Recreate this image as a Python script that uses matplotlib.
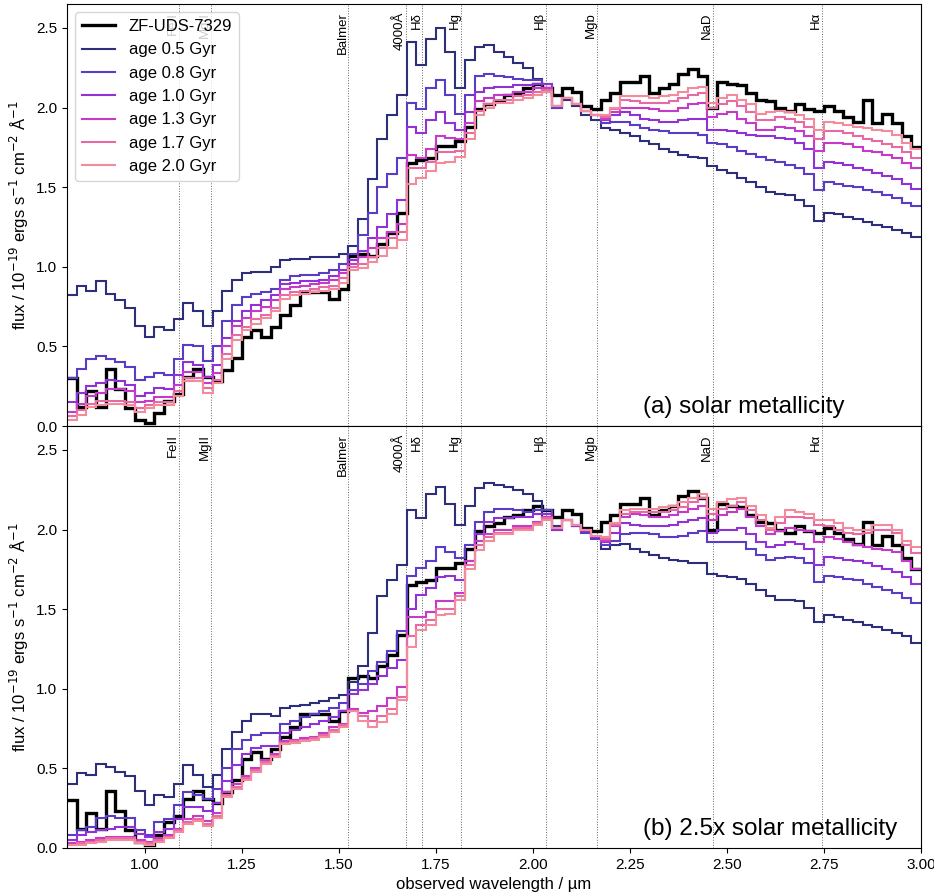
import numpy as np
import matplotlib
matplotlib.use('Agg')
import matplotlib.pyplot as plt
import matplotlib.transforms as mtransforms

plt.rcParams['font.family'] = ['Liberation Sans', 'DejaVu Sans']

# wavelength grid (bin edges, micron)
wave_edges = np.linspace(0.8, 3.0, 89)

# observed spectrum, same in both panels
obs = [0.30, 0.12, 0.22, 0.12, 0.36, 0.23, 0.11, 0.04, 0.02, 0.08, 0.16, 0.20, 0.31, 0.36, 0.31, 0.28,
       0.35, 0.43, 0.56, 0.60, 0.56, 0.62, 0.70, 0.76, 0.84, 0.84, 0.84, 0.80, 0.86, 1.07, 1.08, 1.07,
       1.14, 1.21, 1.34, 1.65, 1.67, 1.68, 1.76, 1.76, 1.79, 1.88, 1.99, 2.02, 2.04, 2.08, 2.09, 2.12,
       2.15, 2.12, 2.08, 2.12, 2.10, 2.01, 1.99, 2.05, 2.09, 2.16, 2.16, 2.20, 2.09, 2.12, 2.15, 2.21,
       2.24, 2.20, 2.00, 2.16, 2.15, 2.14, 2.09, 2.05, 2.04, 2.00, 1.98, 2.02, 1.99, 1.98, 2.01, 1.98,
       1.94, 1.91, 2.05, 1.90, 1.96, 1.90, 1.82, 1.75]

ages = ['0.5', '0.8', '1.0', '1.3', '1.7', '2.0']
colors = ['#2e2f7a', '#5b3cc4', '#9131d6', '#c53ac8', '#e86aa4', '#f38b9b']

# (a) solar metallicity models
solar = {
    '0.5': [0.82, 0.88, 0.85, 0.91, 0.83, 0.79, 0.74, 0.63, 0.56, 0.62, 0.60, 0.67, 0.77, 0.72, 0.63, 0.72,
            0.85, 0.92, 0.96, 0.97, 0.97, 1.00, 1.04, 1.05, 1.05, 1.06, 1.06, 1.06, 1.08, 1.13, 1.30, 1.55,
            1.80, 1.95, 2.08, 2.41, 2.27, 2.43, 2.50, 2.35, 2.12, 2.30, 2.38, 2.39, 2.35, 2.32, 2.28, 2.25,
            2.18, 2.10, 2.00, 2.05, 2.01, 1.95, 1.92, 1.87, 1.86, 1.84, 1.82, 1.79, 1.77, 1.74, 1.72, 1.70,
            1.69, 1.68, 1.63, 1.61, 1.59, 1.56, 1.53, 1.50, 1.47, 1.46, 1.45, 1.42, 1.38, 1.29, 1.34, 1.33,
            1.31, 1.30, 1.28, 1.26, 1.25, 1.23, 1.21, 1.19],
    '0.8': [0.30, 0.36, 0.42, 0.44, 0.42, 0.40, 0.37, 0.29, 0.31, 0.33, 0.32, 0.42, 0.51, 0.50, 0.41, 0.50,
            0.66, 0.76, 0.81, 0.83, 0.84, 0.86, 0.92, 0.94, 0.95, 0.95, 0.96, 0.98, 1.02, 1.08, 1.20, 1.34,
            1.50, 1.58, 1.68, 2.03, 1.99, 2.12, 2.17, 2.08, 1.96, 2.08, 2.20, 2.21, 2.20, 2.19, 2.18, 2.17,
            2.17, 2.15, 2.00, 2.06, 2.02, 1.98, 1.95, 1.90, 1.91, 1.91, 1.89, 1.87, 1.86, 1.85, 1.84, 1.84,
            1.84, 1.83, 1.78, 1.77, 1.75, 1.73, 1.71, 1.69, 1.67, 1.66, 1.64, 1.62, 1.58, 1.48, 1.53, 1.52,
            1.51, 1.50, 1.48, 1.47, 1.45, 1.43, 1.40, 1.38],
    '1.0': [0.15, 0.21, 0.25, 0.27, 0.29, 0.28, 0.26, 0.19, 0.21, 0.24, 0.23, 0.32, 0.40, 0.38, 0.31, 0.38,
            0.55, 0.66, 0.72, 0.76, 0.79, 0.82, 0.89, 0.90, 0.91, 0.91, 0.92, 0.94, 0.98, 1.04, 1.10, 1.18,
            1.25, 1.33, 1.42, 1.88, 1.84, 1.92, 1.97, 1.90, 1.86, 1.97, 2.10, 2.12, 2.13, 2.13, 2.14, 2.14,
            2.15, 2.15, 2.01, 2.06, 2.02, 1.98, 1.95, 1.92, 1.95, 1.97, 1.95, 1.93, 1.92, 1.91, 1.91, 1.92,
            1.93, 1.93, 1.86, 1.86, 1.85, 1.84, 1.83, 1.82, 1.82, 1.81, 1.80, 1.78, 1.74, 1.62, 1.66, 1.65,
            1.64, 1.62, 1.61, 1.59, 1.57, 1.55, 1.52, 1.49],
    '1.3': [0.09, 0.14, 0.19, 0.21, 0.23, 0.23, 0.22, 0.15, 0.16, 0.18, 0.18, 0.26, 0.34, 0.34, 0.27, 0.33,
            0.50, 0.63, 0.68, 0.72, 0.75, 0.79, 0.86, 0.87, 0.88, 0.89, 0.90, 0.92, 0.96, 1.02, 1.06, 1.12,
            1.18, 1.22, 1.27, 1.70, 1.68, 1.74, 1.82, 1.81, 1.80, 1.90, 2.04, 2.06, 2.08, 2.08, 2.10, 2.10,
            2.12, 2.12, 2.01, 2.06, 2.02, 1.98, 1.95, 1.93, 1.97, 2.00, 2.00, 2.00, 1.99, 1.98, 1.98, 2.00,
            2.02, 2.03, 1.94, 1.96, 1.97, 1.93, 1.90, 1.86, 1.86, 1.88, 1.87, 1.85, 1.82, 1.73, 1.78, 1.78,
            1.77, 1.75, 1.73, 1.72, 1.70, 1.68, 1.65, 1.62],
    '1.7': [0.06, 0.10, 0.14, 0.16, 0.16, 0.16, 0.15, 0.11, 0.13, 0.15, 0.15, 0.22, 0.30, 0.30, 0.24, 0.29,
            0.45, 0.57, 0.62, 0.67, 0.70, 0.74, 0.82, 0.84, 0.85, 0.86, 0.87, 0.88, 0.93, 1.00, 1.02, 1.06,
            1.12, 1.18, 1.22, 1.62, 1.62, 1.66, 1.72, 1.72, 1.73, 1.84, 1.98, 2.02, 2.05, 2.05, 2.07, 2.08,
            2.10, 2.11, 2.01, 2.06, 2.02, 1.98, 1.95, 1.94, 1.99, 2.05, 2.04, 2.03, 2.03, 2.03, 2.04, 2.06,
            2.08, 2.09, 2.00, 2.02, 2.04, 2.01, 1.97, 1.92, 1.92, 1.94, 1.93, 1.91, 1.88, 1.80, 1.85, 1.85,
            1.84, 1.82, 1.80, 1.79, 1.77, 1.75, 1.72, 1.68],
    '2.0': [0.04, 0.07, 0.12, 0.13, 0.14, 0.14, 0.13, 0.09, 0.11, 0.13, 0.13, 0.19, 0.28, 0.28, 0.21, 0.27,
            0.42, 0.54, 0.60, 0.64, 0.68, 0.72, 0.80, 0.82, 0.83, 0.84, 0.85, 0.86, 0.90, 0.98, 0.99, 1.03,
            1.07, 1.12, 1.17, 1.52, 1.56, 1.60, 1.65, 1.66, 1.69, 1.80, 1.95, 2.00, 2.03, 2.03, 2.05, 2.06,
            2.08, 2.10, 2.01, 2.06, 2.02, 1.98, 1.95, 1.95, 2.00, 2.07, 2.07, 2.07, 2.06, 2.07, 2.08, 2.10,
            2.12, 2.13, 2.03, 2.06, 2.08, 2.05, 2.02, 1.96, 1.97, 1.98, 1.97, 1.95, 1.93, 1.86, 1.91, 1.90,
            1.89, 1.88, 1.87, 1.86, 1.85, 1.83, 1.78, 1.74],
}

# (b) 2.5x solar metallicity models
rich = {
    '0.5': [0.40, 0.47, 0.46, 0.53, 0.51, 0.48, 0.45, 0.36, 0.27, 0.33, 0.32, 0.40, 0.52, 0.46, 0.38, 0.46,
            0.62, 0.73, 0.80, 0.84, 0.84, 0.83, 0.88, 0.89, 0.90, 0.91, 0.92, 0.94, 0.96, 1.04, 1.14, 1.35,
            1.58, 1.68, 1.78, 2.12, 2.07, 2.22, 2.27, 2.16, 2.03, 2.15, 2.26, 2.29, 2.28, 2.27, 2.25, 2.22,
            2.18, 2.08, 2.02, 2.06, 2.02, 1.99, 1.95, 1.88, 1.90, 1.91, 1.88, 1.86, 1.84, 1.82, 1.81, 1.80,
            1.79, 1.79, 1.72, 1.71, 1.70, 1.69, 1.66, 1.62, 1.58, 1.56, 1.56, 1.55, 1.51, 1.42, 1.46, 1.45,
            1.43, 1.42, 1.40, 1.39, 1.37, 1.35, 1.33, 1.29],
    '0.8': [0.08, 0.11, 0.13, 0.19, 0.20, 0.19, 0.19, 0.11, 0.08, 0.16, 0.18, 0.27, 0.35, 0.33, 0.31, 0.37,
            0.50, 0.62, 0.68, 0.71, 0.72, 0.72, 0.78, 0.80, 0.82, 0.84, 0.86, 0.88, 0.91, 0.99, 1.03, 1.11,
            1.17, 1.24, 1.36, 1.71, 1.76, 1.80, 1.89, 1.86, 1.82, 1.90, 2.05, 2.11, 2.13, 2.13, 2.12, 2.11,
            2.12, 2.12, 2.00, 2.06, 2.02, 1.98, 1.94, 1.90, 1.93, 1.97, 1.98, 1.98, 1.97, 1.95, 1.95, 1.96,
            1.98, 1.99, 1.92, 1.92, 1.92, 1.92, 1.88, 1.84, 1.81, 1.82, 1.83, 1.82, 1.79, 1.67, 1.71, 1.70,
            1.69, 1.68, 1.66, 1.64, 1.62, 1.60, 1.57, 1.54],
    '1.0': [0.05, 0.08, 0.10, 0.11, 0.12, 0.13, 0.13, 0.09, 0.07, 0.10, 0.12, 0.18, 0.26, 0.26, 0.23, 0.28,
            0.42, 0.52, 0.59, 0.63, 0.64, 0.64, 0.72, 0.74, 0.76, 0.78, 0.80, 0.82, 0.86, 0.97, 0.99, 1.03,
            1.08, 1.13, 1.18, 1.50, 1.59, 1.63, 1.70, 1.71, 1.68, 1.80, 1.97, 2.05, 2.07, 2.07, 2.08, 2.08,
            2.10, 2.10, 2.00, 2.06, 2.02, 1.99, 1.95, 1.92, 1.98, 2.04, 2.03, 2.02, 2.02, 2.02, 2.03, 2.05,
            2.06, 2.07, 1.98, 2.00, 2.00, 2.01, 1.97, 1.92, 1.89, 1.90, 1.92, 1.91, 1.88, 1.78, 1.83, 1.82,
            1.81, 1.80, 1.79, 1.77, 1.75, 1.73, 1.70, 1.66],
    '1.3': [0.03, 0.04, 0.05, 0.06, 0.07, 0.07, 0.07, 0.05, 0.04, 0.06, 0.08, 0.12, 0.18, 0.20, 0.17, 0.22,
            0.35, 0.40, 0.45, 0.50, 0.55, 0.59, 0.67, 0.68, 0.69, 0.70, 0.72, 0.76, 0.78, 0.87, 0.85, 0.86,
            0.89, 0.94, 1.01, 1.45, 1.45, 1.48, 1.55, 1.55, 1.60, 1.80, 1.93, 1.97, 2.00, 2.00, 2.02, 2.02,
            2.05, 2.08, 2.01, 2.06, 2.03, 2.00, 1.96, 1.93, 2.02, 2.08, 2.10, 2.09, 2.08, 2.08, 2.09, 2.11,
            2.13, 2.15, 2.06, 2.09, 2.11, 2.13, 2.08, 2.02, 1.97, 1.99, 2.01, 2.00, 1.99, 1.92, 1.95, 1.94,
            1.92, 1.90, 1.89, 1.88, 1.87, 1.86, 1.80, 1.75],
    '1.7': [0.02, 0.03, 0.04, 0.05, 0.06, 0.06, 0.06, 0.04, 0.03, 0.05, 0.07, 0.11, 0.16, 0.18, 0.15, 0.20,
            0.33, 0.38, 0.44, 0.49, 0.54, 0.58, 0.66, 0.67, 0.68, 0.69, 0.71, 0.74, 0.77, 0.86, 0.83, 0.80,
            0.83, 0.87, 0.95, 1.33, 1.40, 1.43, 1.50, 1.50, 1.58, 1.78, 1.90, 1.95, 1.98, 1.98, 2.01, 2.01,
            2.04, 2.07, 2.01, 2.06, 2.03, 2.00, 1.96, 1.94, 2.03, 2.10, 2.11, 2.11, 2.11, 2.11, 2.12, 2.14,
            2.17, 2.20, 2.10, 2.13, 2.15, 2.17, 2.12, 2.06, 2.00, 2.04, 2.08, 2.08, 2.07, 2.03, 2.02, 2.00,
            1.98, 1.97, 1.98, 2.00, 2.00, 1.98, 1.90, 1.85],
    '2.0': [0.02, 0.02, 0.03, 0.04, 0.05, 0.05, 0.05, 0.03, 0.02, 0.04, 0.06, 0.10, 0.15, 0.17, 0.14, 0.19,
            0.32, 0.37, 0.43, 0.48, 0.53, 0.57, 0.65, 0.66, 0.67, 0.68, 0.70, 0.73, 0.76, 0.86, 0.80, 0.76,
            0.79, 0.84, 0.93, 1.26, 1.37, 1.40, 1.46, 1.47, 1.56, 1.75, 1.87, 1.93, 1.97, 1.97, 2.00, 2.00,
            2.03, 2.06, 2.01, 2.06, 2.03, 2.00, 1.96, 1.95, 2.04, 2.12, 2.13, 2.13, 2.13, 2.14, 2.15, 2.17,
            2.20, 2.22, 2.13, 2.17, 2.19, 2.20, 2.15, 2.09, 2.01, 2.08, 2.12, 2.11, 2.10, 2.06, 2.06, 2.04,
            2.01, 2.00, 2.00, 2.03, 2.03, 2.00, 1.93, 1.89],
}

# spectral features (rest wavelength in Angstrom) and redshift
line_names = ['FeII', 'MgII', 'Balmer', '4000Å', 'Hδ', 'Hg', 'Hβ', 'Mgb', 'NaD', 'Hα']
line_rest = [2600, 2800, 3646, 4000, 4102, 4340, 4861, 5175, 5893, 6563]
z = 3.183

fig, axes = plt.subplots(2, 1, figsize=(9.34, 8.96), dpi=100, sharex=True)
fig.subplots_adjust(left=0.0717, right=0.986, top=0.9955, bottom=0.0536, hspace=0)

panels = [(solar, '(a) solar metallicity'), (rich, '(b) 2.5x solar metallicity')]
for ax, (models, title) in zip(axes, panels):
    trans = mtransforms.blended_transform_factory(ax.transData, ax.transAxes)
    for name, rest in zip(line_names, line_rest):
        lam = rest * (1 + z) / 1e4
        ax.axvline(lam, color='0.4', ls=':', lw=0.7, zorder=0)
        ax.text(lam, 0.981, name, transform=trans, rotation=90, ha='right', va='top',
                fontsize=9.5)
    ax.stairs(obs, wave_edges, baseline=None, color='k', lw=2.4, label='ZF-UDS-7329')
    for age, c in zip(ages, colors):
        ax.stairs(models[age], wave_edges, baseline=None, color=c, lw=1.5, label=f'age {age} Gyr')
    ax.set_xlim(0.8, 3.0)
    ax.set_ylim(0, 2.65)
    ax.set_yticks([0.0, 0.5, 1.0, 1.5, 2.0, 2.5])
    ax.tick_params(labelsize=11)
    ax.set_ylabel('flux / 10$^{-19}$ ergs s$^{-1}$ cm$^{-2}$ Å$^{-1}$', fontsize=12)
    ax.text(0.675, 0.03, title, transform=ax.transAxes, fontsize=17.5, ha='left', va='baseline')

axes[0].legend(loc='upper left', fontsize=12)
axes[1].set_xlabel('observed wavelength / µm', fontsize=12)
axes[1].set_xticks([1.0, 1.25, 1.5, 1.75, 2.0, 2.25, 2.5, 2.75, 3.0])

fig.savefig('out.png', dpi=100)
